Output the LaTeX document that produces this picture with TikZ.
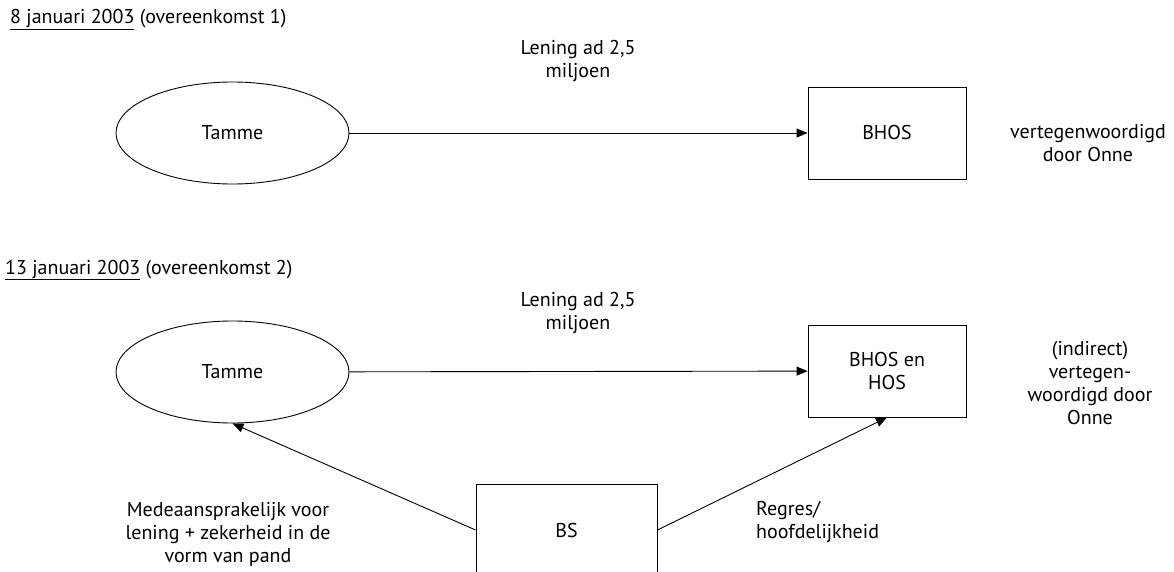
\documentclass[tikz,border=0pt]{standalone}
\usepackage{fontspec}
\setmainfont{PT Sans}
\usetikzlibrary{shapes.geometric,arrows.meta}
\tikzset{
  party/.style={draw, line width=0.9pt, ellipse, minimum width=233pt, minimum height=102pt, inner sep=0pt},
  firm/.style={draw, line width=0.9pt, rectangle, minimum width=158pt, minimum height=92pt, inner sep=0pt, align=center},
  lbl/.style={inner sep=0pt, align=center},
  deal/.style={line width=0.9pt, -{Triangle[length=11pt,width=9pt]}}
}
\begin{document}
\begin{tikzpicture}[x=1pt, y=-1pt, font=\fontsize{20}{23}\selectfont]
        \useasboundingbox (0,0) rectangle (1174,572);
        % overeenkomst 1
        \node [lbl, anchor=west] (kop1) at (10,20) {\underline{8 januari 2003} (overeenkomst 1)};
        \node [party] (tamme1) at (232.5,133) {Tamme};
        \node [firm] (bhos1) at (887,133) {BHOS};
        \draw[deal] (tamme1) -- (bhos1);
        \node [lbl] (lening1) at (578,61) {Lening ad 2,5\\miljoen};
        \node [lbl] (onne1) at (1088,143) {vertegenwoordigd\\door Onne};
        % overeenkomst 2
        \node [lbl, anchor=west] (kop2) at (5,270) {\underline{13 januari 2003} (overeenkomst 2)};
        \node [party] (tamme2) at (232.5,372) {Tamme};
        \node [firm] (bhos2) at (887,371) {BHOS en\\HOS};
        \draw[deal] (tamme2) -- (bhos2);
        \node [lbl] (lening2) at (578,313) {Lening ad 2,5\\miljoen};
        \node [lbl] (onne2) at (1090,383) {(indirect)\\vertegen-\\woordigd door\\Onne};
        \node [firm, minimum width=181pt] (bs) at (566.5,530) {BS};
        \draw[deal] (bs.west) -- (tamme2.south);
        \draw[deal] (bs.east) -- (bhos2.south);
        \node [lbl] (mede) at (228,534) {Medeaansprakelijk voor\\lening + zekerheid in de\\vorm van pand};
        \node [lbl, anchor=west, align=left] (regres) at (756,522) {Regres/\\hoofdelijkheid};
\end{tikzpicture}
\end{document}
